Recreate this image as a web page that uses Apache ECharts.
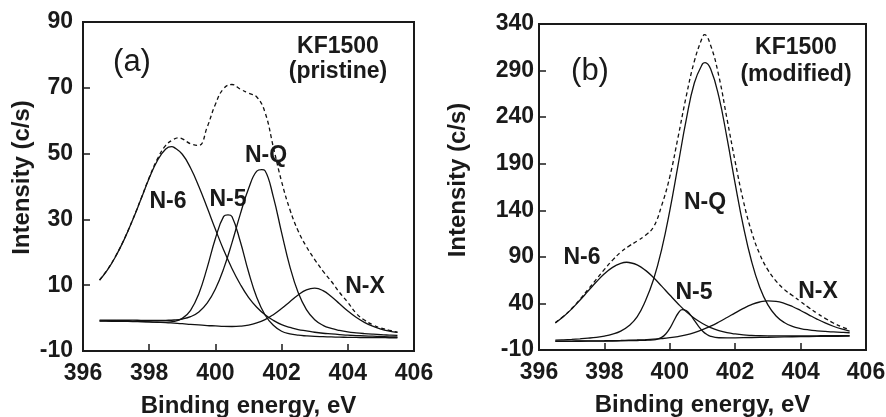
<!DOCTYPE html>
<html>
<head>
<meta charset="utf-8">
<script src="https://cdn.jsdelivr.net/npm/echarts@6/dist/echarts.min.js"></script>
<style>
html,body{margin:0;padding:0;background:#fff;}
#chart{width:886px;height:417px;}
</style>
</head>
<body>
<div id="chart"></div>
<script>
// Shared binding-energy grid (eV)
const energy = [396.5, 396.75, 397.0, 397.25, 397.5, 397.75, 398.0, 398.25, 398.5, 398.75,
  399.0, 399.25, 399.5, 399.75, 400.0, 400.25, 400.5, 400.75, 401.0, 401.25,
  401.5, 401.75, 402.0, 402.25, 402.5, 402.75, 403.0, 403.25, 403.5, 403.75,
  404.0, 404.25, 404.5, 404.75, 405.0, 405.25, 405.5];

// Panel (a) KF1500 pristine
const a_N6 = [11.5, 14.8, 19.0, 24.0, 29.8, 36.1, 42.5, 47.9, 51.4, 51.9, 49.8, 45.6, 40.0, 33.6, 27.0, 20.7, 15.1, 10.3, 6.3, 3.3, 1.0, -0.7, -2.0, -2.8, -3.5, -3.9, -4.3, -4.6, -4.8, -5.0, -5.2, -5.3, -5.4, -5.5, -5.6, -5.7, -5.75];
const a_N5 = [-0.9, -0.94, -0.98, -1.01, -1.03, -1.1, -1.16, -1.25, -1.23, -1.02, -0.09, 2.38, 7.42, 15.28, 24.21, 30.9, 30.9, 23.35, 14.1, 6.25, 0.95, -2.2, -4.0, -4.8, -5.2, -5.42, -5.58, -5.66, -5.73, -5.79, -5.85, -5.88, -5.9, -5.93, -5.95, -5.97, -5.98];
const a_NQ = [-0.64, -0.65, -0.66, -0.66, -0.64, -0.67, -0.68, -0.72, -0.67, -0.58, -0.28, 0.42, 1.87, 4.54, 8.86, 15.03, 22.88, 31.52, 39.31, 44.65, 44.8, 36.87, 25.98, 15.66, 7.75, 2.57, -0.5, -2.19, -3.15, -3.75, -4.18, -4.47, -4.7, -4.89, -5.05, -5.17, -5.28];
const a_NX = [-0.84, -0.88, -0.91, -0.95, -0.98, -1.06, -1.14, -1.26, -1.38, -1.54, -1.7, -1.9, -2.08, -2.26, -2.38, -2.51, -2.55, -2.45, -2.14, -1.48, -0.45, 1.04, 2.89, 5.0, 7.03, 8.57, 9.1, 8.37, 6.59, 4.35, 2.14, 0.24, -1.3, -2.47, -3.33, -3.93, -4.36];
const a_env = [11.6, 14.9, 19.1, 24.1, 29.9, 36.2, 42.7, 48.4, 52.5, 54.4, 54.5, 53.0, 52.5, 58.0, 65.0, 69.8, 71.0, 69.6, 68.4, 67.2, 62.5, 52.0, 41.5, 33.0, 26.5, 21.7, 17.8, 14.3, 11.2, 7.8, 4.8, 1.5, -0.6, -2.0, -3.0, -3.7, -4.3];
// peak apexes [energy, intensity]
const a_N6_peak = [398.68, 52.1];
const a_N5_peak = [400.38, 31.4];
const a_NQ_peak = [401.4, 45.1];
const a_env_peak = [398.88, 54.8];

// Panel (b) KF1500 modified
const b_N6 = [19.1, 25.95, 34.1, 43.35, 53.2, 62.95, 71.8, 78.7, 83.0, 83.95, 81.4, 75.75, 67.8, 58.6, 49.0, 39.7, 31.2, 24.1, 18.5, 14.1, 10.9, 8.65, 7.2, 6.2, 5.66, 5.3, 5.12, 5.09, 5.13, 5.14, 5.21, 5.23, 5.27, 5.31, 5.36, 5.36, 5.37];
const b_NQ = [0.5, 0.9, 1.4, 2.0, 2.7, 3.6, 4.9, 7.0, 10.3, 16.0, 25.5, 42.37, 65.35, 97.87, 139.7, 188.0, 236.7, 276.6, 297.2, 291.6, 262.0, 217.45, 168.4, 122.7, 85.25, 57.35, 38.4, 26.5, 19.5, 15.35, 13.05, 11.58, 10.6, 9.89, 9.38, 8.92, 8.54];
const b_NX = [-0.53, -0.46, -0.39, -0.32, -0.24, -0.15, -0.07, 0.08, 0.23, 0.5, 0.78, 1.12, 1.58, 2.26, 3.18, 4.46, 6.2, 8.62, 11.82, 15.6, 20.02, 24.87, 29.89, 34.65, 38.72, 41.54, 42.78, 42.31, 40.18, 36.71, 32.42, 27.76, 23.19, 19.04, 15.49, 12.58, 10.36];
const b_env = [19.3, 26.2, 34.5, 44.2, 55.0, 65.8, 76.5, 86.5, 95.0, 101.5, 107.0, 113.0, 122.0, 145.0, 176.0, 218.0, 262.0, 300.0, 326.0, 317.0, 284.0, 238.0, 192.0, 150.0, 117.0, 93.0, 76.0, 64.0, 55.0, 48.5, 42.0, 35.5, 29.5, 24.0, 19.0, 15.0, 11.8];
const b_N6_peak = [398.68, 84.2];
const b_NQ_peak = [401.08, 298.5];
const b_env_peak = [401.06, 328.5];
// N-5 in (b) is narrow: own finer energy grid
const b_N5_energy = [396.5, 397.0, 397.5, 398.0, 398.5, 399.0, 399.25, 399.5, 399.625, 399.75, 399.875, 400.0, 400.125, 400.25, 400.375, 400.5, 400.625, 400.75, 400.875, 401.0, 401.125, 401.25, 401.5, 401.75, 402.0, 402.5, 403.0, 403.5, 404.0, 404.5, 405.0, 405.5];
const b_N5 = [-0.77, -0.66, -0.55, -0.43, -0.2, 0.18, 0.41, 0.93, 1.72, 3.52, 7.17, 13.27, 21.36, 29.18, 33.37, 32.36, 27.99, 21.84, 15.62, 10.49, 6.87, 4.71, 3.14, 2.98, 3.12, 3.43, 3.68, 4.06, 4.34, 4.53, 4.73, 4.82];

// Axis settings
const xTicks = {min: 396, max: 406, interval: 2};
const aY = {min: -10, max: 90, interval: 20};
const bY = {min: -10, max: 340, interval: 50};

const FONT = '"Liberation Sans", Arial, sans-serif';
const INK = '#1a1a1a';

function pairs(xs, ys, peak) {
  const out = xs.map((x, i) => [x, ys[i]]);
  if (peak) { out.push(peak.slice()); out.sort((p, q) => p[0] - q[0]); }
  return out;
}

function xAxisCfg(gridIndex) {
  return {
    type: 'value', gridIndex, min: xTicks.min, max: xTicks.max, interval: xTicks.interval,
    axisLine: {show: true, onZero: false, lineStyle: {color: INK, width: 2}},
    axisTick: {show: true, inside: true, length: 7, lineStyle: {color: INK, width: 1.5}},
    axisLabel: {color: INK, fontSize: 23, fontWeight: 'bold', fontFamily: FONT, margin: 11},
    splitLine: {show: false},
    name: 'Binding energy, eV', nameLocation: 'middle', nameGap: 43,
    nameTextStyle: {color: INK, fontSize: 24, fontWeight: 'bold', fontFamily: FONT}
  };
}
function yAxisCfg(gridIndex, r, labelMargin, nameGap, pad) {
  return {
    type: 'value', gridIndex, min: r.min, max: r.max, interval: r.interval,
    axisLine: {show: true, onZero: false, lineStyle: {color: INK, width: 2}},
    axisTick: {show: true, inside: true, length: 7, lineStyle: {color: INK, width: 1.5}},
    axisLabel: {color: INK, fontSize: 23, fontWeight: 'bold', fontFamily: FONT, margin: labelMargin},
    splitLine: {show: false},
    name: 'Intensity (c/s)', nameLocation: 'middle', nameGap: nameGap, nameRotate: 90,
    nameTextStyle: {color: INK, fontSize: 24, fontWeight: 'bold', fontFamily: FONT, padding: pad}
  };
}
function solid(name, xi, data) {
  return {name, type: 'line', xAxisIndex: xi, yAxisIndex: xi, data, smooth: 0.45,
    showSymbol: false, symbol: 'none', lineStyle: {color: '#111', width: 1.3}, z: 3};
}
function dashed(name, xi, data) {
  return {name, type: 'line', xAxisIndex: xi, yAxisIndex: xi, data, smooth: 0.45,
    showSymbol: false, symbol: 'none', lineStyle: {color: '#111', width: 1.3, type: [4, 3]}, z: 2};
}
function txt(x, y, text, font) {
  return {type: 'text', x, y, style: {text, font, fill: INK, textAlign: 'center', textVerticalAlign: 'middle', verticalAlign: 'middle', align: 'center'}};
}
const BOLD = 'bold 23px ' + FONT;
const PANEL = '31px ' + FONT;

const chart = echarts.init(document.getElementById('chart'), null, {renderer: 'canvas'});
chart.setOption({
  animation: false,
  backgroundColor: '#fff',
  grid: [
    {left: 83, top: 22, width: 331, height: 329, show: true, borderColor: INK, borderWidth: 2, backgroundColor: 'transparent', containLabel: false, outerBoundsMode: 'none'},
    {left: 539, top: 24, width: 327, height: 326, show: true, borderColor: INK, borderWidth: 2, backgroundColor: 'transparent', containLabel: false, outerBoundsMode: 'none'}
  ],
  xAxis: [xAxisCfg(0), xAxisCfg(1)],
  yAxis: [yAxisCfg(0, aY, 10, 49, [0, 0, 0, 18]), yAxisCfg(1, bY, 5, 69, [0, 0, 0, 14])],
  series: [
    dashed('Envelope (a)', 0, pairs(energy, a_env, a_env_peak)),
    solid('N-6 (a)', 0, pairs(energy, a_N6, a_N6_peak)),
    solid('N-5 (a)', 0, pairs(energy, a_N5, a_N5_peak)),
    solid('N-Q (a)', 0, pairs(energy, a_NQ, a_NQ_peak)),
    solid('N-X (a)', 0, pairs(energy, a_NX)),
    dashed('Envelope (b)', 1, pairs(energy, b_env, b_env_peak)),
    solid('N-6 (b)', 1, pairs(energy, b_N6, b_N6_peak)),
    solid('N-5 (b)', 1, pairs(b_N5_energy, b_N5)),
    solid('N-Q (b)', 1, pairs(energy, b_NQ, b_NQ_peak)),
    solid('N-X (b)', 1, pairs(energy, b_NX))
  ],
  graphic: [
    txt(132, 62, '(a)', PANEL),
    txt(338, 47, 'KF1500', BOLD),
    txt(338, 72, '(pristine)', BOLD),
    txt(168, 202, 'N-6', BOLD),
    txt(228, 200, 'N-5', BOLD),
    txt(266, 156, 'N-Q', BOLD),
    txt(365, 287, 'N-X', BOLD),
    txt(590, 71, '(b)', PANEL),
    txt(796, 48, 'KF1500', BOLD),
    txt(796, 75, '(modified)', BOLD),
    txt(582, 258, 'N-6', BOLD),
    txt(694, 293, 'N-5', BOLD),
    txt(705, 203, 'N-Q', BOLD),
    txt(818, 292, 'N-X', BOLD)
  ]
});
</script>
</body>
</html>
